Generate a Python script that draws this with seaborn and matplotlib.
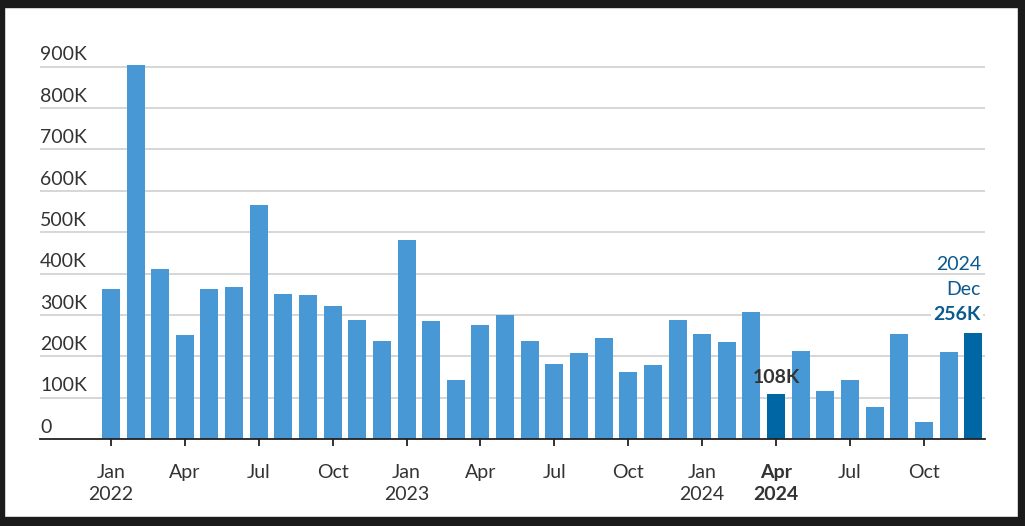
import pandas as pd
import matplotlib.pyplot as plt
import seaborn as sns
from matplotlib.patches import Rectangle

# Monthly values, Jan 2022 - Dec 2024 (in thousands)
months = [f"{y}-{m:02d}" for y in (2022, 2023, 2024) for m in range(1, 13)]
values = [
    363, 905, 411, 252, 363, 368, 566, 351, 348, 322, 288, 237,
    481, 286, 143, 276, 300, 237, 181, 208, 244, 162, 179, 288,
    254, 235, 307, 108, 213, 116, 143, 77, 254, 41, 210, 256,
]
highlight = ["2024-04", "2024-12"]
tick_months = ["2022-01", "2022-04", "2022-07", "2022-10",
               "2023-01", "2023-04", "2023-07", "2023-10",
               "2024-01", "2024-04", "2024-07", "2024-10"]
tick_labels = ["Jan\n2022", "Apr", "Jul", "Oct",
               "Jan\n2023", "Apr", "Jul", "Oct",
               "Jan\n2024", "Apr\n2024", "Jul", "Oct"]
y_ticks = [0, 100, 200, 300, 400, 500, 600, 700, 800, 900]

df = pd.DataFrame({"month": months, "value": [v * 1000 for v in values]})

BAR = "#4898d5"
DARK = "#0167a4"
LABEL = "#0a5a8f"
TEXT = "#333333"

sns.set_theme(style="white")
plt.rcParams["font.family"] = ["Lato", "DejaVu Sans"]

fig = plt.figure(figsize=(10.25, 5.26), dpi=100)
ax = fig.add_axes([0.039, 0.1654, 0.922, 0.747])

palette = {m: (DARK if m in highlight else BAR) for m in months}
sns.barplot(data=df, x="month", y="value", hue="month", palette=palette,
            legend=False, width=0.73, saturation=1, ax=ax)
for p in ax.patches:
    p.set_zorder(3)
    p.set_edgecolor("none")

ax.set_xlim(-2.88, 35.48)
ax.set_ylim(0, 950000)

# gridlines and y labels sitting above them
for t in y_ticks:
    if t > 0:
        ax.axhline(t * 1000, color="#d3d3d3", lw=1.3, zorder=1)
    ax.text(0, t * 1000 + 8000, f"{t}K" if t else "0", transform=ax.get_yaxis_transform(),
            ha="left", va="bottom", fontsize=14, color=TEXT)
ax.set_yticks([])
ax.set_ylabel("")
ax.set_xlabel("")

for s in ["top", "right", "left"]:
    ax.spines[s].set_visible(False)
ax.spines["bottom"].set_color("#222222")
ax.spines["bottom"].set_linewidth(1.3)
ax.spines["bottom"].set_zorder(5)

pos = [months.index(m) for m in tick_months]
ax.set_xticks(pos)
ax.set_xticklabels(tick_labels, fontsize=14, color=TEXT, linespacing=1.35)
ax.tick_params(axis="x", length=5, width=1.3, color="#222222", pad=13, bottom=True)
for lbl, m in zip(ax.get_xticklabels(), tick_months):
    if m == "2024-04":
        lbl.set_fontweight("bold")

# annotations
i_apr = months.index("2024-04")
ax.annotate("108K", (i_apr, values[i_apr] * 1000), xytext=(0, 6), textcoords="offset points",
            ha="center", va="bottom", fontsize=14, fontweight="bold", color=TEXT, zorder=6)
i_dec = months.index("2024-12")
xr = i_dec + 0.365
box = dict(facecolor="white", edgecolor="none", pad=1.5)
ax.annotate("256K", (xr, values[i_dec] * 1000), xytext=(-1, 7), textcoords="offset points",
            ha="right", va="bottom", fontsize=14, fontweight="bold", color=LABEL,
            bbox=box, zorder=6)
ax.annotate("Dec", (xr, values[i_dec] * 1000), xytext=(-1, 25), textcoords="offset points",
            ha="right", va="bottom", fontsize=14, color=LABEL, zorder=6)
ax.annotate("2024", (xr, values[i_dec] * 1000), xytext=(-1, 43), textcoords="offset points",
            ha="right", va="bottom", fontsize=14, color=LABEL, zorder=6)

# dark frame around the image
W, H = 1025, 526
frame = "#1b1b1b"
for (x0, y0, w, h) in [(0, 0, 4, H), (1018, 0, 7, H), (0, H - 7, W, 7), (0, 0, W, 9)]:
    fig.patches.append(Rectangle((x0 / W, y0 / H), w / W, h / H, transform=fig.transFigure,
                                 color=frame, zorder=10))

fig.savefig("out.png", dpi=100, facecolor="white")
